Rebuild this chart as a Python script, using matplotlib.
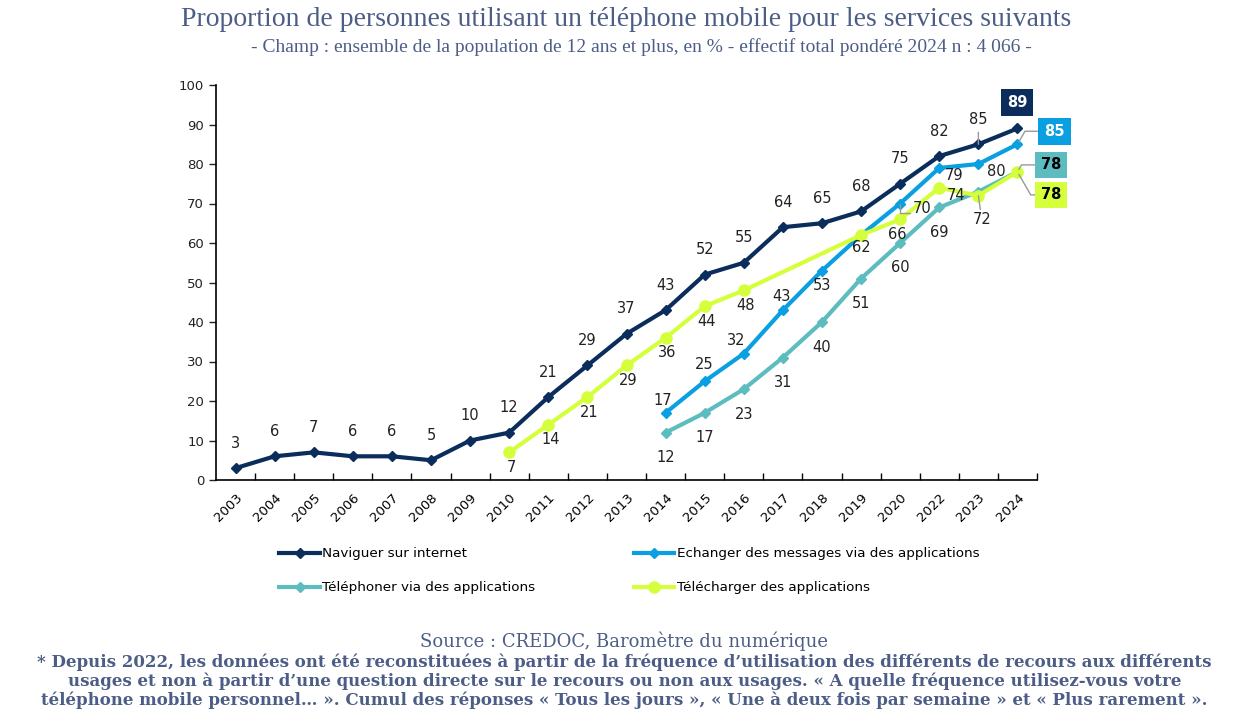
import numpy as np
import matplotlib
matplotlib.use('Agg')
import matplotlib.pyplot as plt

years = ['2003', '2004', '2005', '2006', '2007', '2008', '2009', '2010', '2011', '2012', '2013',
         '2014', '2015', '2016', '2017', '2018', '2019', '2020', '2022', '2023', '2024']

# None = pas de mesure cette année-là
naviguer = [3, 6, 7, 6, 6, 5, 10, 12, 21, 29, 37, 43, 52, 55, 64, 65, 68, 75, 82, 85, 89]
echanger = [None] * 11 + [17, 25, 32, 43, 53, 62, 70, 79, 80, 85]
telephoner = [None] * 11 + [12, 17, 23, 31, 40, 51, 60, 69, 73, 78]
telecharger = [None] * 7 + [7, 14, 21, 29, 36, 44, 48, None, None, 62, 66, 74, 72, 78]

names = ['Naviguer sur internet', 'Echanger des messages via des applications',
         'Téléphoner via des applications', 'Télécharger des applications']

c_nav = '#0b2d5b'
c_ech = '#0a9fe0'
c_tel = '#5cbcbf'
c_dl = '#d4ff3a'
c_title = '#4c5d86'

plt.rcParams['font.family'] = 'DejaVu Sans'
fig = plt.figure(figsize=(12.34, 7.16), dpi=100)
ax = fig.add_axes([216 / 1234, 1 - 480 / 716, (1037 - 216) / 1234, (480 - 85) / 716])

x = np.arange(len(years))


def valid(vals):
    idx = [i for i, v in enumerate(vals) if v is not None]
    return np.array(idx), np.array([vals[i] for i in idx])


series = [
    (naviguer, c_nav, 'D', 5.5),
    (echanger, c_ech, 'D', 5.5),
    (telephoner, c_tel, 'D', 5.5),
    (telecharger, c_dl, 'o', 8),
]
handles = []
for (vals, col, mk, ms), name in zip(series, names):
    xi, yi = valid(vals)
    h, = ax.plot(xi, yi, color=col, lw=3, marker=mk, markersize=ms, label=name, zorder=3)
    handles.append(h)

lab = dict(fontsize=10.5, color='#222222', ha='center', va='center', textcoords='offset pixels')
grey = '#999999'

# Naviguer : au-dessus
for i, v in enumerate(naviguer[:-1]):
    ax.annotate(str(v), (i, v), xytext=(0, 25), **lab)
ax.annotate('', (19, naviguer[19]), xytext=(0, 12), textcoords='offset pixels',
            arrowprops=dict(arrowstyle='-', color=grey, lw=1, shrinkA=0, shrinkB=0))

# Echanger
ech_off = {11: (-3, 12), 12: (-1, 17), 13: (-8, 13), 14: (-1, 14), 15: (0, -15),
           17: (22, -5), 18: (15, -8), 19: (18, -8)}
for i, (dx, dy) in ech_off.items():
    ax.annotate(str(echanger[i]), (i, echanger[i]), xytext=(dx, dy), **lab)
ax.annotate('', (17, echanger[17]), xytext=(10, -9), textcoords='offset pixels',
            arrowprops=dict(arrowstyle='-', color=grey, lw=1, shrinkA=0, shrinkB=0,
                            connectionstyle='angle,angleA=0,angleB=90'))

# Téléphoner : en dessous
for i in range(11, 19):
    ax.annotate(str(telephoner[i]), (i, telephoner[i]), xytext=(0, -25), **lab)

# Télécharger
for i in [7, 8, 9, 10, 11, 12, 13, 16, 17]:
    dy = -12 if i == 16 else -15
    dx = -3 if i == 17 else 2
    if i == 16:
        dx = 0
    ax.annotate(str(telecharger[i]), (i, telecharger[i]), xytext=(dx, dy), **lab)
ax.annotate(str(telecharger[18]), (18, telecharger[18]), xytext=(17, -8), **lab)
ax.annotate(str(telecharger[19]), (19, telecharger[19]), xytext=(4, -24), **lab)
ax.annotate('', (19, telecharger[19]), xytext=(2, -14), textcoords='offset pixels',
            arrowprops=dict(arrowstyle='-', color=grey, lw=1, shrinkA=0, shrinkB=0))

# étiquettes finales encadrées
end_labels = [
    (naviguer[-1], c_nav, 'white', (0, 26), None),
    (echanger[-1], c_ech, 'white', (37, 13), True),
    (telephoner[-1], c_tel, 'black', (34, 7), True),
    (telecharger[-1], c_dl, 'black', (34, -23), True),
]
for v, fc, tc, off, knee in end_labels:
    ax.annotate(str(v), (20, v), xytext=off, textcoords='offset pixels', ha='center', va='center',
                fontsize=10.5, fontweight='bold', color=tc,
                bbox=dict(boxstyle='square,pad=0.4', fc=fc, ec='none'), zorder=5)
    if knee:
        ax.annotate('', (20, v), xytext=(off[0] - 14, off[1]), textcoords='offset pixels',
                    arrowprops=dict(arrowstyle='-', color=grey, lw=1, shrinkA=0, shrinkB=2,
                                    connectionstyle='angle,angleA=0,angleB=%d' % (60 if off[1] > 0 else -60)))

ax.set_xlim(-0.5, len(years) - 0.5)
ax.set_ylim(0, 100)
ax.set_yticks(range(0, 101, 10))
ax.tick_params(axis='y', labelsize=9.5, length=5, width=1, direction='out', colors='#222222')
ax.set_xticks(np.arange(0.5, len(years) + 0.5, 1))
ax.set_xticklabels([])
ax.tick_params(axis='x', which='major', length=5, direction='in', width=1)
ax.set_xticks(x, minor=True)
ax.set_xticklabels(years, minor=True, rotation=45, ha='right', rotation_mode='anchor', fontsize=9.5)
ax.tick_params(axis='x', which='minor', length=0, pad=8)
for s in ['top', 'right']:
    ax.spines[s].set_visible(False)
for s in ['left', 'bottom']:
    ax.spines[s].set_linewidth(1.2)

# ordre : ligne 1 = Naviguer / Echanger, ligne 2 = Téléphoner / Télécharger
leg_h = [handles[0], handles[2], handles[1], handles[3]]
fig.legend(handles=leg_h, loc='upper left', bbox_to_anchor=(274 / 1234, 1 - 542 / 716), ncol=2,
           frameon=False, fontsize=9.7, handlelength=3.0, handletextpad=0.2,
           columnspacing=7.3, labelspacing=1.55, borderaxespad=0)

fig.text(0.507, 1 - 19 / 716, 'Proportion de personnes utilisant un téléphone mobile pour les services suivants',
         ha='center', va='center', family='Liberation Serif', fontsize=20, color=c_title)
fig.text(0.52, 1 - 47 / 716, '- Champ : ensemble de la population de 12 ans et plus, en % - effectif total pondéré 2024 n : 4 066 -',
         ha='center', va='center', family='Liberation Serif', fontsize=14, color=c_title)
fig.text(0.506, 1 - 641 / 716, 'Source : CREDOC, Baromètre du numérique',
         ha='center', va='center', family='DejaVu Serif', fontsize=13, color=c_title)
foot = ['* Depuis 2022, les données ont été reconstituées à partir de la fréquence d\u2019utilisation des différents de recours aux différents',
        'usages et non à partir d\u2019une question directe sur le recours ou non aux usages. « A quelle fréquence utilisez-vous votre',
        'téléphone mobile personnel\u2026 ». Cumul des réponses « Tous les jours », « Une à deux fois par semaine » et « Plus rarement ».']
for k, line in enumerate(foot):
    fig.text(0.506, 1 - (662 + 19 * k) / 716, line, ha='center', va='center', family='DejaVu Serif',
             fontweight='bold', fontsize=12, color=c_title)

fig.savefig('out.png', dpi=100)
